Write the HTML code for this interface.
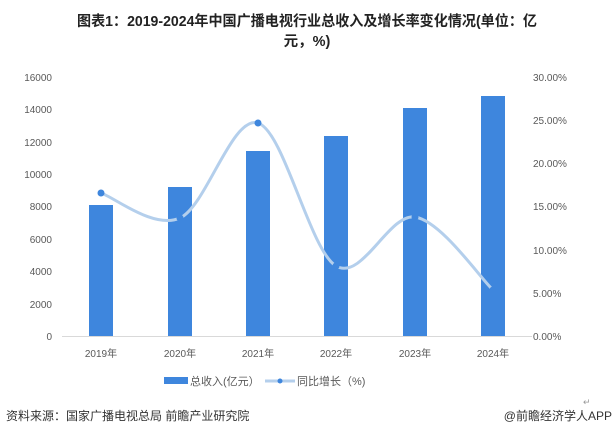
<!DOCTYPE html>
<html><head><meta charset="utf-8"><style>
body{margin:0;background:#fff;width:615px;height:438px;overflow:hidden;font-family:"Liberation Sans","Noto Sans CJK SC",sans-serif;}
</style></head><body>
<svg width="615" height="438" xmlns="http://www.w3.org/2000/svg" style="font-family:'Liberation Sans','Noto Sans CJK SC',sans-serif">
<text x="307" y="26" text-anchor="middle" font-size="14.5" font-weight="bold" fill="#222" textLength="460" lengthAdjust="spacingAndGlyphs">图表1：2019-2024年中国广播电视行业总收入及增长率变化情况(单位：亿</text>
<text x="307" y="46" text-anchor="middle" font-size="14.5" font-weight="bold" fill="#222">元，%)</text>
<g font-size="10" fill="#595959" text-anchor="end">
<text x="52" y="340">0</text><text x="52" y="308">2000</text><text x="52" y="275">4000</text><text x="52" y="243">6000</text><text x="52" y="210">8000</text><text x="52" y="178">10000</text><text x="52" y="146">12000</text><text x="52" y="113">14000</text><text x="52" y="81">16000</text>
</g>
<g font-size="10" fill="#595959" text-anchor="start">
<text x="533" y="340">0.00%</text><text x="533" y="297">5.00%</text><text x="533" y="254">10.00%</text><text x="533" y="210">15.00%</text><text x="533" y="167">20.00%</text><text x="533" y="124">25.00%</text><text x="533" y="81">30.00%</text>
</g>
<line x1="62" y1="336.5" x2="532" y2="336.5" stroke="#d9d9d9"/>
<g fill="#3e86dd">
<rect x="89" y="205" width="24" height="131"/>
<rect x="168" y="187" width="24" height="149"/>
<rect x="246" y="151" width="24" height="185"/>
<rect x="324" y="136" width="24" height="200"/>
<rect x="403" y="108" width="24" height="228"/>
<rect x="481" y="96" width="24" height="240"/>
</g>
<path d="M101,193 C114.2,197.2 153.8,229.7 180,218 C206.2,206.3 232,115 258,123 C284,131 309.8,250.3 336,266 C362.2,281.7 388.8,213 415,217 C441.2,221 480,277.8 493,290" fill="none" stroke="#b4cfec" stroke-width="3"/>
<g fill="#3e86dd">
<circle cx="101" cy="193" r="3.5"/><circle cx="180" cy="218" r="3.5"/><circle cx="258" cy="123" r="3.5"/><circle cx="336" cy="266" r="3.5"/><circle cx="415" cy="217" r="3.5"/><circle cx="493" cy="290" r="3.5"/>
</g>
<g font-size="10" fill="#595959" text-anchor="middle">
<text x="101" y="357">2019年</text><text x="180" y="357">2020年</text><text x="258" y="357">2021年</text><text x="336" y="357">2022年</text><text x="415" y="357">2023年</text><text x="493" y="357">2024年</text>
</g>
<rect x="164" y="377" width="24" height="7" fill="#3e86dd"/>
<text x="190" y="385" font-size="11" fill="#595959">总收入(亿元）</text>
<line x1="265" y1="381" x2="295" y2="381" stroke="#b4cfec" stroke-width="3"/>
<circle cx="280" cy="381" r="2.5" fill="#3e86dd"/>
<text x="297" y="385" font-size="11" fill="#595959">同比增长（%)</text>
<text x="583" y="405" font-size="9" fill="#999">↵</text>
<text x="6" y="420" font-size="12" fill="#333">资料来源：国家广播电视总局 前瞻产业研究院</text>
<text x="612" y="420" font-size="12" fill="#333" text-anchor="end">@前瞻经济学人APP</text>
</svg>
</body></html>
